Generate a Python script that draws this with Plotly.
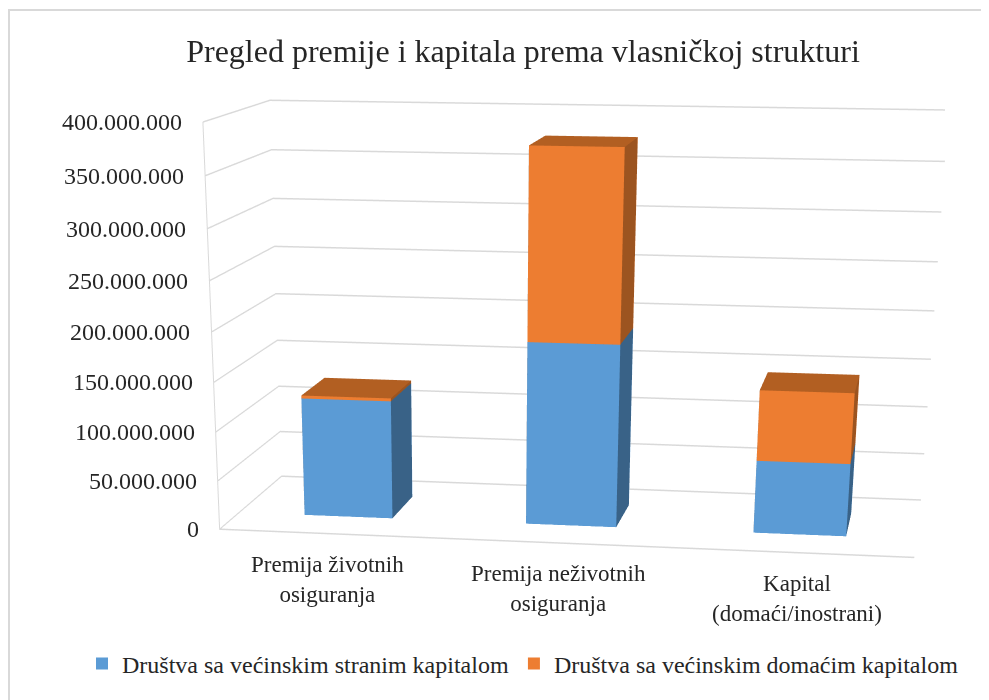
import plotly.graph_objects as go

title_text = "Pregled premije i kapitala prema vlasničkoj strukturi"
categories = ["Premija životnih<br>osiguranja", "Premija neživotnih<br>osiguranja", "Kapital<br>(domaći/inostrani)"]
series_names = ["Društva sa većinskim stranim kapitalom", "Društva sa većinskim domaćim kapitalom"]
strani = [122000000, 186000000, 74000000]
domaci = [3000000, 190000000, 71000000]
tick_vals = [0, 50000000, 100000000, 150000000, 200000000, 250000000, 300000000, 350000000, 400000000]
tick_text = ["0", "50.000.000", "100.000.000", "150.000.000", "200.000.000", "250.000.000", "300.000.000", "350.000.000", "400.000.000"]

# The reference has a long-lens view; the scene's field of view is fixed, so the
# figure is taller than the window and only its top part is seen.
OFF = 8        # page margin of the browser
W, H = 1000, 2200
PX = 468.3108  # horizontal centre of the scene viewport
EYE = (0.5393, -3.9209, 0.5962)
CENTER = (-0.1537, 0, -1.2669)
ASPECT = (1, 0.3761, 0.5573)

BLUE = ("#5B9BD5", "#396287", "#396287")
ORANGE = ("#ED7D31", "#9C5420", "#B25F22")
BAR_X = (0.3, 0.7)   # bar extent inside each category
BAR_Y = (0.3, 0.7)   # bar extent in depth

def boxes(bottoms, tops, cols):
    xs, ys, zs, i, j, k, fc = [], [], [], [], [], [], []
    for n, (z0, z1) in enumerate(zip(bottoms, tops)):
        x0, x1 = n + BAR_X[0], n + BAR_X[1]
        y0, y1 = BAR_Y
        b = len(xs)
        xs += [x0, x1, x1, x0, x0, x1, x1, x0]
        ys += [y0, y0, y1, y1, y0, y0, y1, y1]
        zs += [z0, z0, z0, z0, z1, z1, z1, z1]
        faces = [((0, 1, 5), 0), ((0, 5, 4), 0), ((1, 2, 6), 1), ((1, 6, 5), 1), ((4, 5, 6), 2),
                 ((4, 6, 7), 2), ((0, 3, 7), 1), ((0, 7, 4), 1), ((3, 2, 6), 0), ((3, 6, 7), 0)]
        for (a, c, d), col in faces:
            i.append(b + a); j.append(b + c); k.append(b + d); fc.append(cols[col])
    return dict(x=xs, y=ys, z=zs, i=i, j=j, k=k, facecolor=fc)

LIGHT = dict(ambient=1, diffuse=0, specular=0, fresnel=0, roughness=1)
tops = [a + b for a, b in zip(strani, domaci)]
fig = go.Figure()
fig.add_trace(go.Mesh3d(**boxes([0, 0, 0], strani, BLUE), flatshading=True, lighting=LIGHT, showlegend=False, hoverinfo="skip"))
fig.add_trace(go.Mesh3d(**boxes(strani, tops, ORANGE), flatshading=True, lighting=LIGHT, showlegend=False, hoverinfo="skip"))
for nm, c in zip(series_names, (BLUE[0], ORANGE[0])):
    fig.add_trace(go.Scatter3d(x=[None], y=[None], z=[None], mode="markers", name=nm,
                               marker=dict(symbol="square", size=12, color=c)))

GRID = "#d9d9d9"; F = "Liberation Serif"; TXT = "#262626"
noax = dict(showbackground=False, showgrid=False, zeroline=False, showspikes=False, title="", ticks="", showticklabels=False)
xsh = [-4, -1, 3]
ann = [dict(x=n + .5, y=0, z=0, text=t, showarrow=False, yanchor="top", yshift=-16, xshift=xsh[n],
            font=dict(family=F, size=23, color=TXT)) for n, t in enumerate(categories)]
ann += [dict(x=0, y=0, z=v, text=t, showarrow=False, xanchor="right", yanchor="middle", xshift=-19,
             font=dict(family=F, size=24, color=TXT)) for v, t in zip(tick_vals, tick_text)]
fx = lambda x: (x - OFF) / W
fy = lambda y: 1 - (y - OFF) / H
fig.update_layout(
    width=W, height=H, margin=dict(l=0, r=0, t=0, b=0), paper_bgcolor="white",
    title=dict(text=title_text, x=fx(523), xanchor="center", y=fy(51), yanchor="middle",
               font=dict(family=F, size=32, color=TXT)),
    legend=dict(orientation="h", x=fx(523), xanchor="center", y=fy(664), yanchor="middle",
                font=dict(family=F, size=24, color=TXT)),
    shapes=[dict(type="rect", xref="paper", yref="paper", x0=fx(9), x1=1.02, y0=0, y1=fy(10),
                 line=dict(color=GRID, width=2), layer="below")],
    scene=dict(
        domain=dict(x=[0, 2 * PX / W], y=[0, 1]), aspectmode="manual",
        aspectratio=dict(x=ASPECT[0], y=ASPECT[1], z=ASPECT[2]),
        camera=dict(eye=dict(x=EYE[0], y=EYE[1], z=EYE[2]), center=dict(x=CENTER[0], y=CENTER[1], z=CENTER[2]),
                    up=dict(x=0, y=0, z=1), projection=dict(type="perspective")),
        xaxis=dict(noax, range=[0, 3], showline=True, linecolor=GRID, linewidth=3),
        yaxis=dict(noax, range=[0, 1], showline=False),
        zaxis=dict(showbackground=False, zeroline=False, showspikes=False, title="", range=[0, 400000000],
                   tickmode="array", tickvals=tick_vals, ticktext=tick_text, showticklabels=False,
                   showgrid=True, gridcolor=GRID, gridwidth=3, showline=True, linecolor=GRID, linewidth=2, ticks=""),
        annotations=ann))
fig.write_html("out.html")
